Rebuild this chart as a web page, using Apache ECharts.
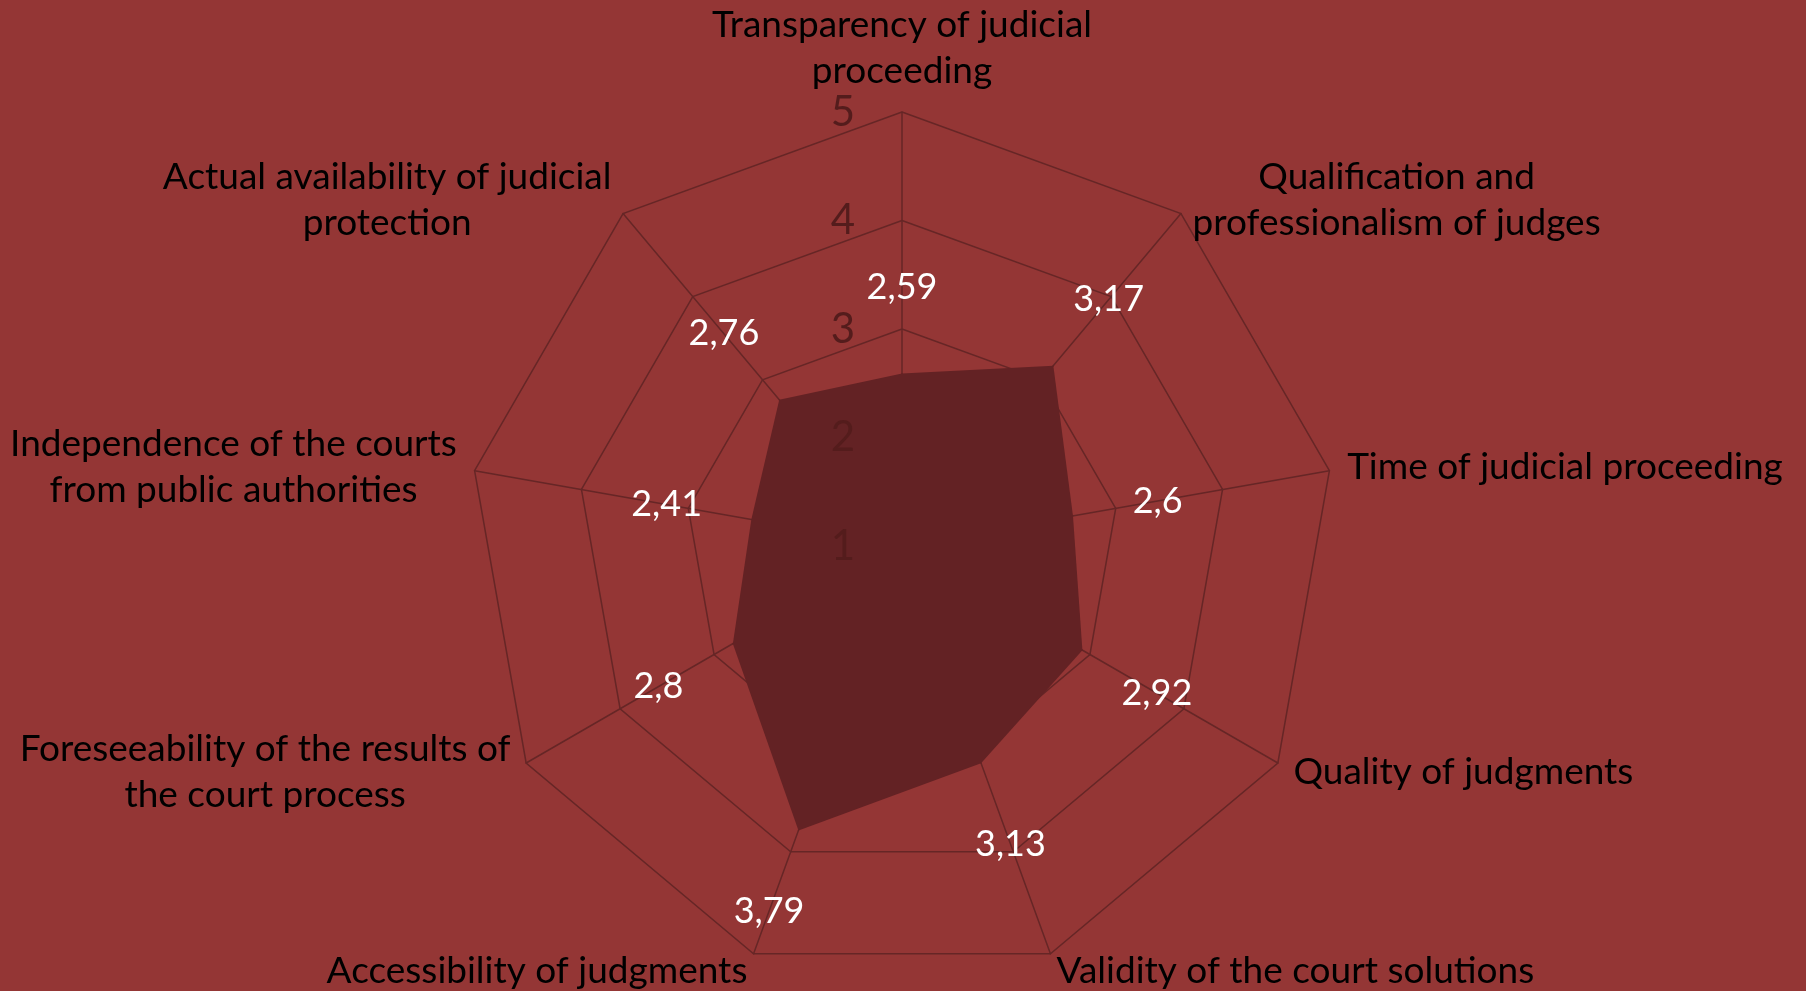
<!DOCTYPE html>
<html>
<head>
<meta charset="utf-8">
<script src="https://cdn.jsdelivr.net/npm/echarts@6/dist/echarts.min.js"></script>
<style>
  html, body { margin: 0; padding: 0; background: #943635; }
  #chart { width: 1806px; height: 991px; }
</style>
</head>
<body>
<div id="chart"></div>
<script>
// indicators, listed clockwise from the top
const categories = [
  'Transparency of judicial\nproceeding',
  'Qualification and\nprofessionalism of judges',
  'Time of judicial proceeding',
  'Quality of judgments',
  'Validity of the court solutions',
  'Accessibility of judgments',
  'Foreseeability of the results of\nthe court process',
  'Independence of the courts\nfrom public authorities',
  'Actual availability of judicial\nprotection'
]
const values = [2.59, 3.17, 2.6, 2.92, 3.13, 3.79, 2.8, 2.41, 2.76]
const axisMin = 1
const axisMax = 5

const FONT = 'Lato'
const CENTER = [902, 546]
const RADIUS = 434
const LABEL_GAP = 86
const LINE = '#662626'

// echarts lays radar indicators out counter-clockwise, so flip the order
const order = categories.map((_, i) => (categories.length - i) % categories.length)

function indicators(withLabels) {
  return order.map((i, k) => {
    const ind = { name: categories[i], min: axisMin, max: axisMax }
    if (withLabels && k === 0) {
      ind.axisLabel = { show: true }
    }
    return ind
  })
}

const chart = echarts.init(document.getElementById('chart'), null, { renderer: 'canvas' })

chart.setOption({
  backgroundColor: '#943635',
  animation: false,
  radar: [
    {
      center: CENTER,
      radius: RADIUS,
      startAngle: 90,
      splitNumber: 4,
      shape: 'polygon',
      axisNameGap: 18,
      axisName: {
        color: '#000',
        fontFamily: FONT,
        fontSize: 37,
        lineHeight: 46,
        formatter: (name) => name.split('\n').map((s) => '{c|' + s + '}').join('\n'),
        rich: {
          c: { align: 'center', color: '#000', fontFamily: FONT, fontSize: 37, lineHeight: 46 }
        }
      },
      splitLine: { lineStyle: { color: LINE, width: 1.5 } },
      splitArea: { show: false },
      axisLine: { lineStyle: { color: LINE, width: 1.5 } },
      axisTick: { show: false },
      axisLabel: { show: false },
      indicator: indicators(false)
    },
    {
      // second copy only for the scale numbers, drawn above the filled area
      center: CENTER,
      radius: RADIUS,
      startAngle: 90,
      splitNumber: 4,
      shape: 'polygon',
      z: 5,
      axisName: { show: false },
      splitLine: { show: false },
      splitArea: { show: false },
      axisLine: { show: false },
      axisTick: { show: false },
      axisLabel: {
        show: false,
        color: '#541c1c',
        fontFamily: FONT,
        fontSize: 42,
        margin: 47
      },
      indicator: indicators(true)
    }
  ],
  series: [
    {
      type: 'radar',
      radarIndex: 0,
      symbol: 'circle',
      symbolSize: 1,
      itemStyle: { color: '#632224' },
      lineStyle: { width: 0 },
      areaStyle: { color: '#632224', opacity: 1 },
      label: {
        show: true,
        color: '#fff',
        fontFamily: FONT,
        fontSize: 36,
        formatter: (p) => String(p.value).replace('.', ',')
      },
      labelLayout: (p) => {
        const x = p.rect.x + p.rect.width / 2
        const y = p.rect.y + p.rect.height / 2
        const dx = x - CENTER[0]
        const dy = y - CENTER[1]
        const len = Math.sqrt(dx * dx + dy * dy) || 1
        return {
          x: x + (dx / len) * LABEL_GAP,
          y: y + (dy / len) * LABEL_GAP,
          align: 'center',
          verticalAlign: 'middle'
        }
      },
      data: [{ value: order.map((i) => values[i]) }]
    }
  ]
})
</script>
</body>
</html>
